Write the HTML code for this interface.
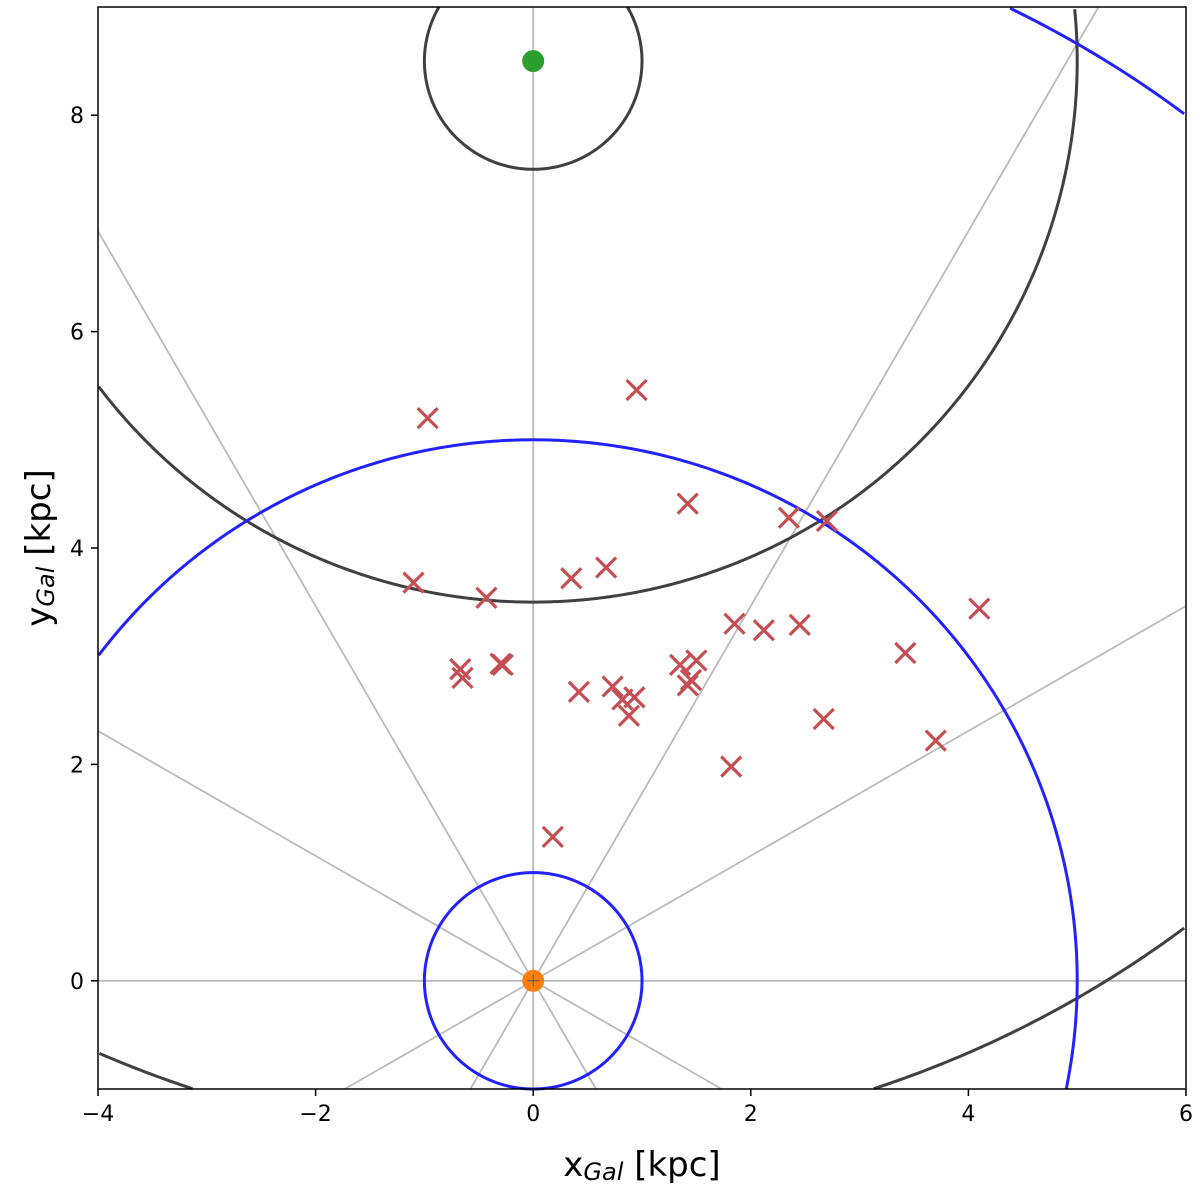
<!DOCTYPE html>
<html><head><meta charset="utf-8"><style>
html,body{margin:0;padding:0;background:#fff;width:1200px;height:1193px;overflow:hidden}
svg{display:block;font-family:"DejaVu Sans","Liberation Sans",sans-serif}
</style></head><body>
<svg id="chart" width="1200" height="1193" viewBox="0 0 1200 1193" xmlns="http://www.w3.org/2000/svg">
<g id="plot"></g>
<rect x="98" y="7" width="1088" height="1082" fill="none" stroke="#000" stroke-width="1.5"/>
<g id="axes"></g>
<text x="642" y="1176" text-anchor="middle" font-size="34">x<tspan font-size="24" font-style="italic" dy="4">Gal</tspan><tspan dy="-4"> [kpc]</tspan></text>
<text transform="translate(50,548) rotate(-90)" text-anchor="middle" font-size="34">y<tspan font-size="24" font-style="italic" dy="4">Gal</tspan><tspan dy="-4"> [kpc]</tspan></text>
</svg>
<script>
const xTicks=[-4,-2,0,2,4,6];
const yTicks=[0,2,4,6,8];
const crossX=[-0.97,0.95,1.42,2.35,2.7,-1.1,-0.43,0.35,0.67,4.1,1.85,2.12,2.45,3.42,-0.67,-0.65,-0.3,-0.28,1.35,1.5,1.45,1.42,0.42,0.73,0.82,0.93,0.88,2.67,3.7,1.82,0.18];
const crossY=[5.2,5.46,4.41,4.28,4.25,3.68,3.54,3.72,3.82,3.44,3.3,3.24,3.29,3.03,2.88,2.8,2.93,2.92,2.92,2.96,2.78,2.73,2.67,2.72,2.6,2.62,2.45,2.42,2.22,1.98,1.33];
const sunX=0, sunY=8.5;
const blackRadii=[1,5,10];
const blueRadii=[1,5,10];
const rayAngles=[0,30,60,90,120,150];

const X0=-4,X1=6,Y0=-1,Y1=9,L=98,R=1186,T=7,B=1089;
const sx=v=>L+(v-X0)/(X1-X0)*(R-L);
const sy=v=>B-(v-Y0)/(Y1-Y0)*(B-T);
const NS="http://www.w3.org/2000/svg";
const plot=document.getElementById('plot'), axes=document.getElementById('axes');
function mk(tag,attrs,parent){const e=document.createElementNS(NS,tag);for(const k in attrs)e.setAttribute(k,attrs[k]);parent.appendChild(e);return e;}
function inside(x,y){return x>=X0&&x<=X1&&y>=Y0&&y<=Y1;}
function circlePath(cx,cy,r){
 let d='',pen=false;
 for(let i=0;i<=1440;i++){const a=i/1440*2*Math.PI,x=cx+r*Math.cos(a),y=cy+r*Math.sin(a);
  if(inside(x,y)){d+=(pen?'L':'M')+sx(x).toFixed(2)+','+sy(y).toFixed(2);pen=true;}else pen=false;}
 return d;
}
function rayClip(a){
 const dx=Math.cos(a),dy=Math.sin(a);let tmin=-1e9,tmax=1e9;
 [[dx,X0,X1],[dy,Y0,Y1]].forEach(([d,lo,hi])=>{if(Math.abs(d)<1e-9)return;let t1=lo/d,t2=hi/d;if(t1>t2)[t1,t2]=[t2,t1];tmin=Math.max(tmin,t1);tmax=Math.min(tmax,t2);});
 return [tmin*dx,tmin*dy,tmax*dx,tmax*dy];
}

rayAngles.forEach(a=>{const c=rayClip(a*Math.PI/180);
 const el=mk('line',{x1:sx(c[0]),y1:sy(c[1]),x2:sx(c[2]),y2:sy(c[3]),stroke:'#bbb','stroke-width':1.8},plot);
 
 
});
blackRadii.forEach(r=>{
 const el=mk('path',{d:circlePath(sunX,sunY,r),fill:'none',stroke:'#404040','stroke-width':3},plot);
 
 
});
blueRadii.forEach(r=>{
 const el=mk('path',{d:circlePath(0,0,r),fill:'none',stroke:'#2222ff','stroke-width':3},plot);
 
 
});
crossX.forEach((x,i)=>{const cx=sx(x),cy=sy(crossY[i]),s=10;
 const g=mk('path',{d:`M${cx-s},${cy-s}L${cx+s},${cy+s}M${cx-s},${cy+s}L${cx+s},${cy-s}`,stroke:'#c44e52','stroke-width':3.2,fill:'none'},plot);
 
 
});
let s=mk('circle',{cx:sx(sunX),cy:sy(sunY),r:11,fill:'#2ca02c'},plot);


let gc=mk('circle',{cx:sx(0),cy:sy(0),r:11,fill:'#ff7f0e'},plot);


mk('path',{d:`M${sx(0)-6},${sy(0)}H${sx(0)+6}M${sx(0)},${sy(0)-6}V${sy(0)+6}`,stroke:'#555','stroke-width':1},plot);

xTicks.forEach(v=>{mk('line',{x1:sx(v),x2:sx(v),y1:B,y2:B+7,stroke:'#000','stroke-width':1.5},axes);
 const t=mk('text',{x:sx(v),y:B+32,'text-anchor':'middle','font-size':22},axes);t.textContent=(v<0?'\u2212':'')+Math.abs(v);
 
 
});
yTicks.forEach(v=>{mk('line',{x1:L-7,x2:L,y1:sy(v),y2:sy(v),stroke:'#000','stroke-width':1.5},axes);
 const t=mk('text',{x:L-14,y:sy(v)+8,'text-anchor':'end','font-size':22},axes);t.textContent=v;
 
 
});
</script>
</body></html>
